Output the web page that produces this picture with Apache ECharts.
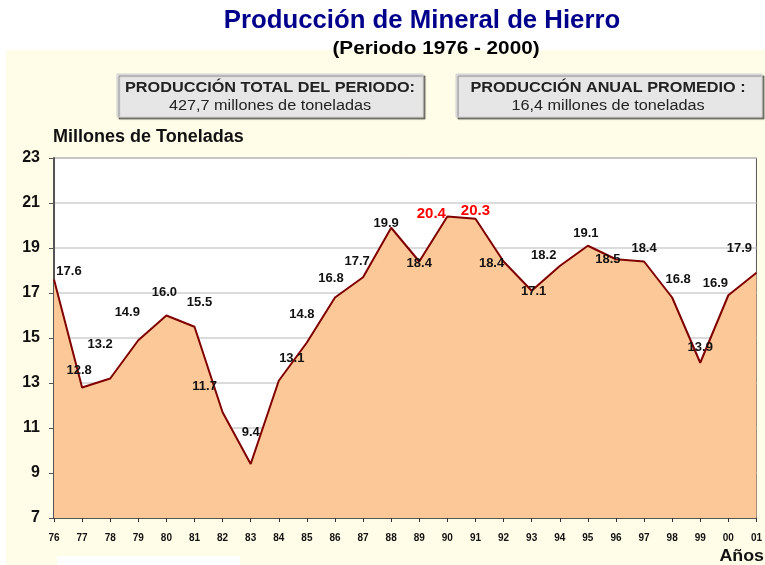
<!DOCTYPE html>
<html lang="es">
<head>
    <meta charset="UTF-8">
    <title>Producción de Mineral de Hierro</title>
    <script src="https://cdn.jsdelivr.net/npm/echarts@6/dist/echarts.min.js"></script>
    <style>
        html,body{margin:0;padding:0;background:#fff}
        #main{width:765px;height:565px}
    </style>
</head>
<body>
<div id="main"></div>
<script>
    // datos
    var anios = ['76','77','78','79','80','81','82','83','84','85','86','87','88',
                 '89','90','91','92','93','94','95','96','97','98','99','00','01'];
    var produccion = [17.6,12.8,13.2,14.9,16.0,15.5,11.7,9.4,13.1,14.8,16.8,17.7,19.9,
                      18.4,20.4,20.3,18.4,17.1,18.2,19.1,18.5,18.4,16.8,13.9,16.9,17.9];
    var destacados = ['90','91'];   // etiquetas en rojo
    var totalPeriodo = '427,7';
    var promedioAnual = '16,4';

    // desplazamiento de cada etiqueta respecto a su punto (px)
    var desp = [[15,-8],[-3,-17],[-10,-34],[-11,-28],[-2,-23],[5,-24],[-18,-26],[0,-32],
                [13,-22],[-5,-28],[-4,-19],[-6,-16],[-5,-4],[0,2],[-16,-3],[0,-8],
                [-12,2],[2,1],[-16,-11],[-2,-12],[-8,0],[0,-13],[6,-18],[0,-15],
                [-13,-12],[-17,-24]];

    var serieData = [];
    for (var i = 0; i < produccion.length; i++) {
        var rojo = destacados.indexOf(anios[i]) != -1;
        serieData.push({
            value: produccion[i],
            label: {
                offset: desp[i],
                color: rojo ? '#ff0000' : '#111',
                fontSize: rojo ? 15 : 13
            }
        });
    }

    // texto ancho (el original esta estirado en horizontal)
    function texto(t, x, y, size, peso, color, sx, align) {
        return {
            type: 'text', x: x, y: y, scaleX: sx,
            style: {text: t, align: align || 'center', verticalAlign: 'middle',
                fontFamily: 'Arial', fontSize: size, fontWeight: peso, fill: color}
        };
    }
    function caja(x) {
        return {type: 'rect', shape: {x: x, y: 74, width: 306, height: 43},
            style: {fill: '#e6e6e6', stroke: '#d0d0d0', lineWidth: 1,
                shadowColor: 'rgba(0,0,0,0.45)', shadowOffsetX: 2, shadowOffsetY: 2, shadowBlur: 1}};
    }

    var chart = echarts.init(document.getElementById('main'));
    chart.setOption({
        animation: false,
        graphic: [
            {type: 'rect', z: -10, shape: {x: 6, y: 50, width: 759, height: 515}, style: {fill: '#fffde8'}},
            {type: 'rect', z: -9, shape: {x: 57, y: 556, width: 183, height: 9}, style: {fill: '#fff'}},
            texto('Producción de Mineral de Hierro', 422, 21, 25, 'bold', '#00008b', 1.03),
            texto('(Periodo 1976 - 2000)', 436, 49, 18, 'bold', '#000', 1.15),
            caja(117),
            texto('PRODUCCIÓN TOTAL DEL PERIODO:', 270, 88, 14, 'bold', '#222', 1.16),
            texto(totalPeriodo + ' millones de toneladas', 270, 106, 14, 'normal', '#222', 1.16),
            caja(456),
            texto('PRODUCCIÓN ANUAL PROMEDIO :', 608, 88, 14, 'bold', '#222', 1.16),
            texto(promedioAnual + ' millones de toneladas', 608, 106, 14, 'normal', '#222', 1.16),
            texto('Millones de Toneladas', 53, 137, 18, 'bold', '#111', 1.0, 'left'),
            texto('Años', 764, 556, 17, 'bold', '#111', 1.05, 'right')
        ],
        grid: {
            left: 54, right: 5, top: 158, bottom: 47,
            show: true, backgroundColor: '#fff', borderColor: '#555', borderWidth: 1
        },
        xAxis: {
            type: 'category',
            data: anios,
            boundaryGap: false,
            axisLine: {lineStyle: {color: '#333', width: 1.5}},
            axisTick: {show: true, interval: 0, length: 4, lineStyle: {color: '#333'}},
            axisLabel: {interval: 0, margin: 15, color: '#111', fontFamily: 'Liberation Sans Narrow, Arial', fontSize: 10, fontWeight: 'bold'},
            splitLine: {show: false}
        },
        yAxis: {
            type: 'value',
            min: 7, max: 23, interval: 2,
            axisLine: {show: true, lineStyle: {color: '#555', width: 2}},
            axisTick: {show: true, length: 5, lineStyle: {color: '#555'}},
            axisLabel: {margin: 14, color: '#111', fontFamily: 'Arial', fontSize: 16, fontWeight: 'bold'},
            splitLine: {lineStyle: {color: '#cfcfcf', width: 1.5}}
        },
        series: [{
            type: 'line',
            data: serieData,
            symbol: 'circle',
            symbolSize: 0,
            showSymbol: true,
            lineStyle: {color: '#800000', width: 2},
            itemStyle: {color: '#800000'},
            areaStyle: {color: '#fdc897', opacity: 1},
            label: {
                show: true,
                position: 'inside',
                fontFamily: 'Arial',
                fontWeight: 'bold',
                formatter: function (p) { return p.value.toFixed(1); }
            }
        }]
    });
</script>
</body>
</html>
